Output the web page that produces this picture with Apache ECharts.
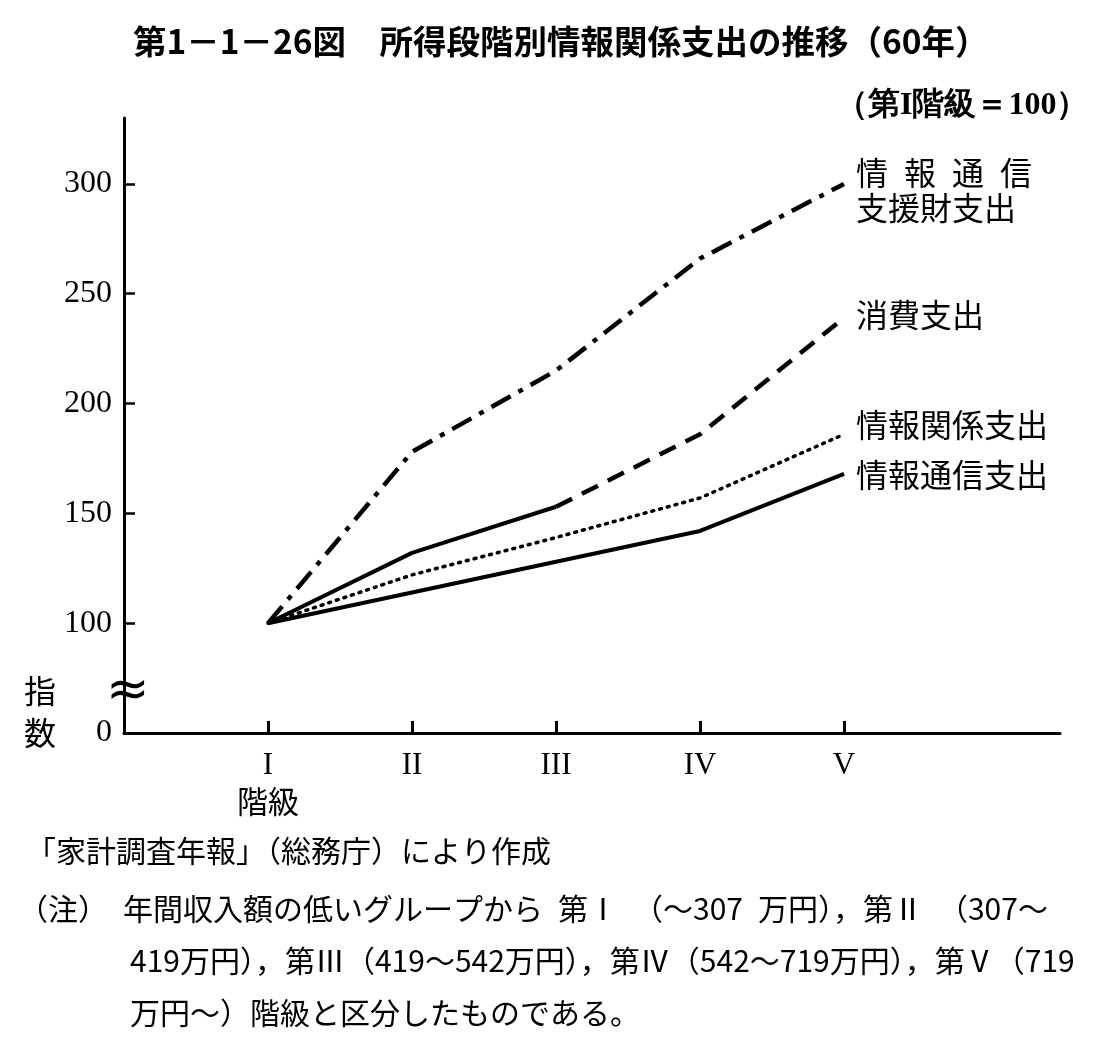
<!DOCTYPE html>
<html><head><meta charset="utf-8">
<script src="https://cdn.jsdelivr.net/npm/echarts@6/dist/echarts.min.js"></script>
<style>html,body{margin:0;padding:0;background:#fff}#c{width:1095px;height:1039px}</style>
</head><body><div id="c"></div>
<script>
// ---- data ----
const classLabels = ['I', 'II', 'III', 'IV', 'V'];
const classPos = [1, 2, 3, 4, 5];
const shienzai = [100, 178, 215, 266, 300];   // 情報通信支援財支出
const shohi    = [100, 132, 153, 186, 239];   // 消費支出
const kankei   = [100, 122, 139, 157, 186];   // 情報関係支出
const tsushin  = [100, 114, 128, 142, 168];   // 情報通信支出
const yTickValues = [50, 100, 150, 200, 250, 300]; // 50 = broken-axis base shown as 0
const yTickLabels = ['0', '100', '150', '200', '250', '300'];

const pairs = (arr, from, to) => arr.map((v, i) => [classPos[i], v]).slice(from, to);
const SERIF = '"Liberation Serif","DejaVu Serif",serif';
const JP = '"Noto Sans CJK JP",sans-serif';

const chart = echarts.init(document.getElementById('c'), null, {renderer: 'canvas'});
const option = {
  animation: false,
  backgroundColor: '#fff',
  title: {
    text: '第1－1－26図　所得段階別情報関係支出の推移（60年）',
    left: 128, top: 20,
    textStyle: {fontFamily: JP, fontWeight: 'bold', fontSize: 33.5, color: '#000'}
  },
  grid: {left: 124, right: 35, top: 118, bottom: 306},
  xAxis: {
    type: 'value', min: 0, max: 6.5, interval: 1,
    axisLine: {lineStyle: {color: '#000', width: 3}},
    axisTick: {inside: true, length: 12, customValues: classPos, lineStyle: {color: '#000', width: 3}},
    splitLine: {show: false},
    axisLabel: {
      customValues: classPos, margin: 16,
      formatter: v => {
        const i = classPos.indexOf(v);
        if (i < 0) return '';
        return i === 0 ? '{r|' + classLabels[i] + '}\n{j|階級}' : '{r|' + classLabels[i] + '}';
      },
      rich: {
        r: {fontFamily: SERIF, fontSize: 31, color: '#000', lineHeight: 34},
        j: {fontFamily: JP, fontSize: 31, color: '#000', lineHeight: 36}
      }
    }
  },
  yAxis: {
    type: 'value', min: 50, max: 330, interval: 50,
    axisLine: {show: true, lineStyle: {color: '#000', width: 3}},
    axisTick: {show: true, inside: true, length: 11, customValues: yTickValues.slice(1), lineStyle: {color: '#000', width: 2.5}},
    splitLine: {show: false},
    axisLabel: {
      customValues: yTickValues, margin: 12,
      fontFamily: SERIF, fontSize: 32, color: '#000',
      formatter: v => { const i = yTickValues.indexOf(v); return i < 0 ? '' : yTickLabels[i]; }
    }
  },
  series: [
    {name: '情報通信支援財支出', type: 'line', symbol: 'none', data: pairs(shienzai, 0, 5),
     lineStyle: {color: '#000', width: 4.5, type: [22, 9, 5, 9]}},
    {name: '消費支出', type: 'line', symbol: 'none', data: pairs(shohi, 0, 3),
     lineStyle: {color: '#000', width: 4}},
    {name: '消費支出', type: 'line', symbol: 'none', data: pairs(shohi, 2, 5),
     lineStyle: {color: '#000', width: 4.5, type: [18, 11]}},
    {name: '情報関係支出', type: 'line', symbol: 'none', data: pairs(kankei, 0, 5),
     lineStyle: {color: '#000', width: 3.5, type: [2, 6], cap: 'round'}},
    {name: '情報通信支出', type: 'line', symbol: 'none', data: pairs(tsushin, 0, 5),
     lineStyle: {color: '#000', width: 4}}
  ],
  graphic: [
    {type: 'text', left: 836, top: 90, style: {text: '（第I階級＝100）', font: 'bold 32px ' + SERIF, fill: '#000'}},
    {type: 'text', left: 856, top: 155, style: {text: '情\u2002報\u2002通\u2002信\n支援財支出', font: '32px ' + JP, fill: '#000', lineHeight: 35}},
    {type: 'text', left: 856, top: 299, style: {text: '消費支出', font: '32px ' + JP, fill: '#000'}},
    {type: 'text', left: 856, top: 409, style: {text: '情報関係支出', font: '32px ' + JP, fill: '#000'}},
    {type: 'text', left: 856, top: 459, style: {text: '情報通信支出', font: '32px ' + JP, fill: '#000'}},
    {type: 'text', left: 24, top: 670, style: {text: '指\n数', font: '32px ' + JP, fill: '#000', lineHeight: 42}},
    {type: 'text', left: 106, top: 666, style: {text: '≈', font: '52px "DejaVu Sans"', fill: '#000'}},
    {type: 'text', left: 26, top: 836, style: {text: '「家計調査年報」（総務庁）により作成', font: '30px ' + JP, fill: '#000'}},
    {type: 'text', left: 18, top: 894, style: {text: '（注）\u3000年間収入額の低いグループから\u2002第Ⅰ\u3000（～307\u2002万円），第Ⅱ\u3000（307～', font: '30px ' + JP, fill: '#000'}},
    {type: 'text', left: 130, top: 946, style: {text: '419万円），第Ⅲ（419～542万円），第Ⅳ（542～719万円），第Ⅴ（719', font: '30px ' + JP, fill: '#000'}},
    {type: 'text', left: 130, top: 998, style: {text: '万円～）階級と区分したものである。', font: '30px ' + JP, fill: '#000'}}
  ]
};
chart.setOption(option);
</script></body></html>
